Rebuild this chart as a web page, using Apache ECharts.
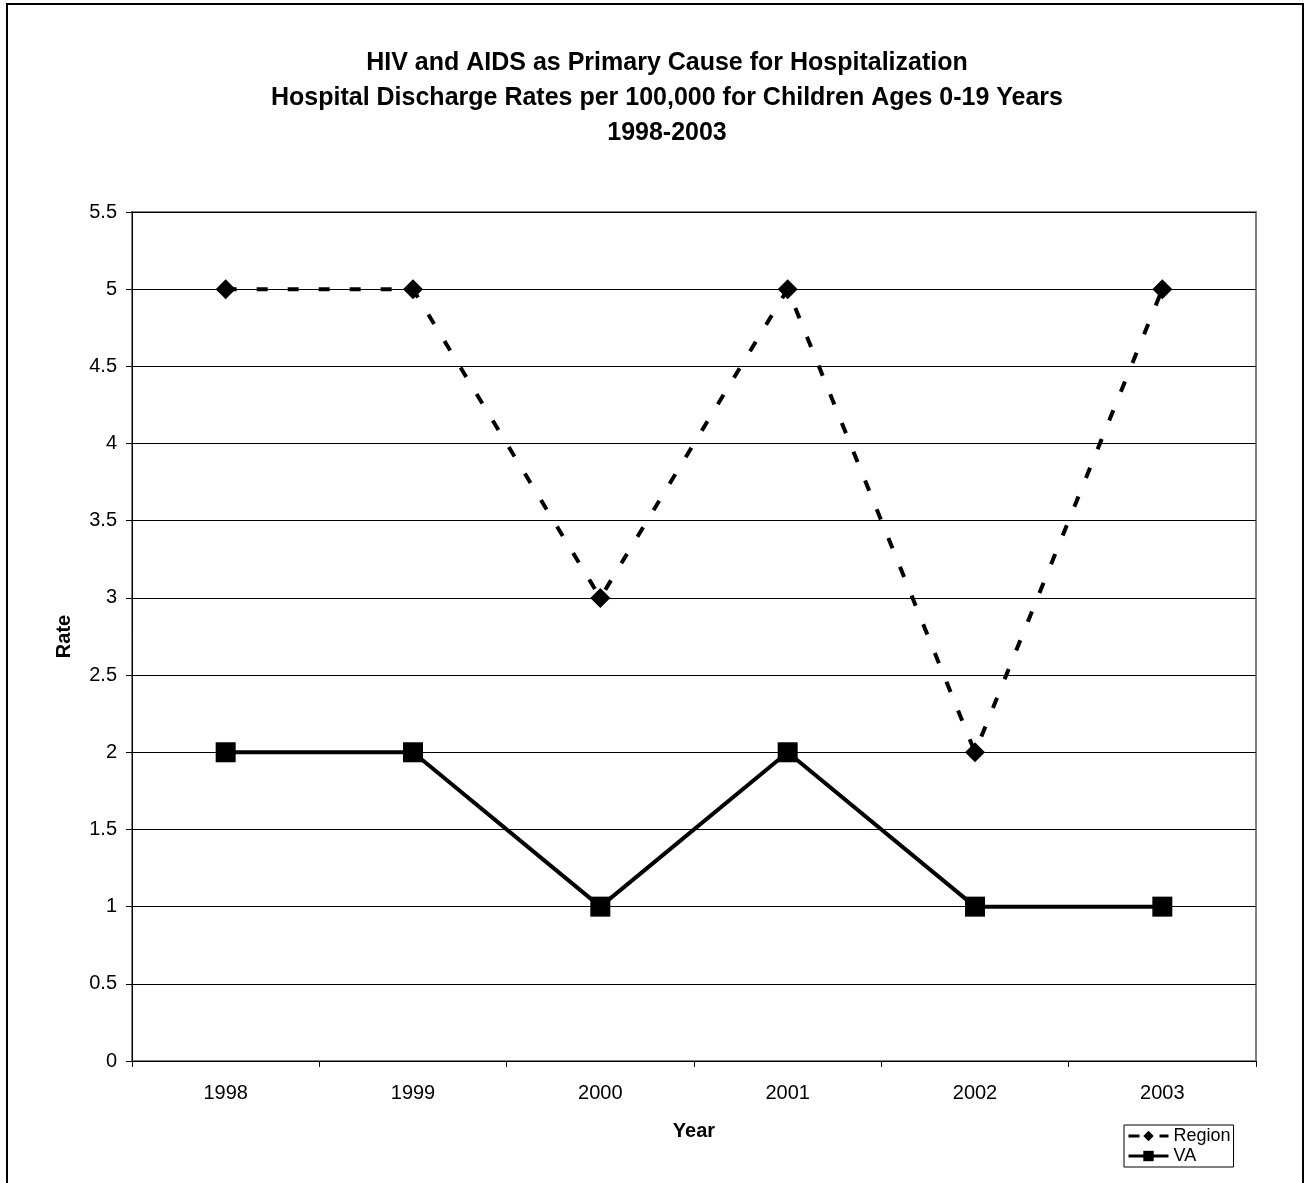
<!DOCTYPE html>
<html>
<head>
<meta charset="utf-8">
<script src="https://cdn.jsdelivr.net/npm/echarts@6/dist/echarts.min.js"></script>
<style>
html,body{margin:0;padding:0;background:#fff;}
#chart{width:1307px;height:1183px;}
</style>
</head>
<body>
<div id="chart"></div>
<script>
const years = ['1998','1999','2000','2001','2002','2003'];
const regionRates = [5, 5, 3, 5, 2, 5];
const vaRates = [2, 2, 1, 2, 1, 1];
const titleLines = ['HIV and AIDS as Primary Cause for Hospitalization','Hospital Discharge Rates per 100,000 for Children Ages 0-19 Years','1998-2003'];

const chart = echarts.init(document.getElementById('chart'));
const FONT = 'Arial, "Liberation Sans", sans-serif';
chart.setOption({
  animation: false,
  backgroundColor: '#fff',
  title: {
    text: titleLines.join('\n'),
    left: 662, top: 41, textAlign: 'center',
    textStyle: {fontFamily: FONT, fontSize: 25, fontWeight: 'bold', color: '#000', lineHeight: 35}
  },
  grid: {left: 132, top: 212, width: 1124, height: 849, show: true, borderColor: '#808080', borderWidth: 2, backgroundColor: 'transparent'},
  xAxis: {
    type: 'category', data: years, boundaryGap: true,
    name: 'Year', nameLocation: 'middle', nameGap: 60,
    nameTextStyle: {fontFamily: FONT, fontSize: 20, fontWeight: 'bold', color: '#000'},
    axisLine: {lineStyle: {color: '#000', width: 1}},
    axisTick: {show: true, length: 6, lineStyle: {color: '#000'}},
    axisLabel: {fontFamily: FONT, fontSize: 20, color: '#000', margin: 22},
    splitLine: {show: false}
  },
  yAxis: {
    type: 'value', min: 0, max: 5.5, interval: 0.5,
    name: 'Rate', nameLocation: 'middle', nameGap: 58, nameRotate: 90,
    nameTextStyle: {fontFamily: FONT, fontSize: 20, fontWeight: 'bold', color: '#000'},
    axisLine: {show: true, lineStyle: {color: '#000', width: 1}},
    axisTick: {show: true, length: 6, lineStyle: {color: '#000'}},
    axisLabel: {fontFamily: FONT, fontSize: 20, color: '#000', margin: 15},
    splitLine: {show: true, lineStyle: {color: '#000', width: 1}}
  },
  legend: {
    orient: 'vertical', left: 1124, top: 1125,
    itemWidth: 40, itemHeight: 13, itemGap: 2, itemTextGap: 2,
    padding: [2, 3, 2, 3],
    borderColor: '#000', borderWidth: 1, backgroundColor: '#fff',
    lineStyle: {width: 3},
    textStyle: {fontFamily: FONT, fontSize: 18, color: '#000', lineHeight: 16},
    data: ['Region', 'VA']
  },
  series: [
    {
      name: 'Region', type: 'line', data: regionRates,
      symbol: 'diamond', symbolSize: 20,
      itemStyle: {color: '#000'},
      lineStyle: {color: '#000', width: 4, type: [11, 20]}
    },
    {
      name: 'VA', type: 'line', data: vaRates,
      symbol: 'rect', symbolSize: 20,
      itemStyle: {color: '#000'},
      lineStyle: {color: '#000', width: 4, type: 'solid'}
    }
  ],
  graphic: [
    {type: 'rect', shape: {x: 7, y: 4, width: 1296, height: 1200}, style: {fill: 'none', stroke: '#000', lineWidth: 2}, silent: true}
  ]
});
</script>
</body>
</html>
